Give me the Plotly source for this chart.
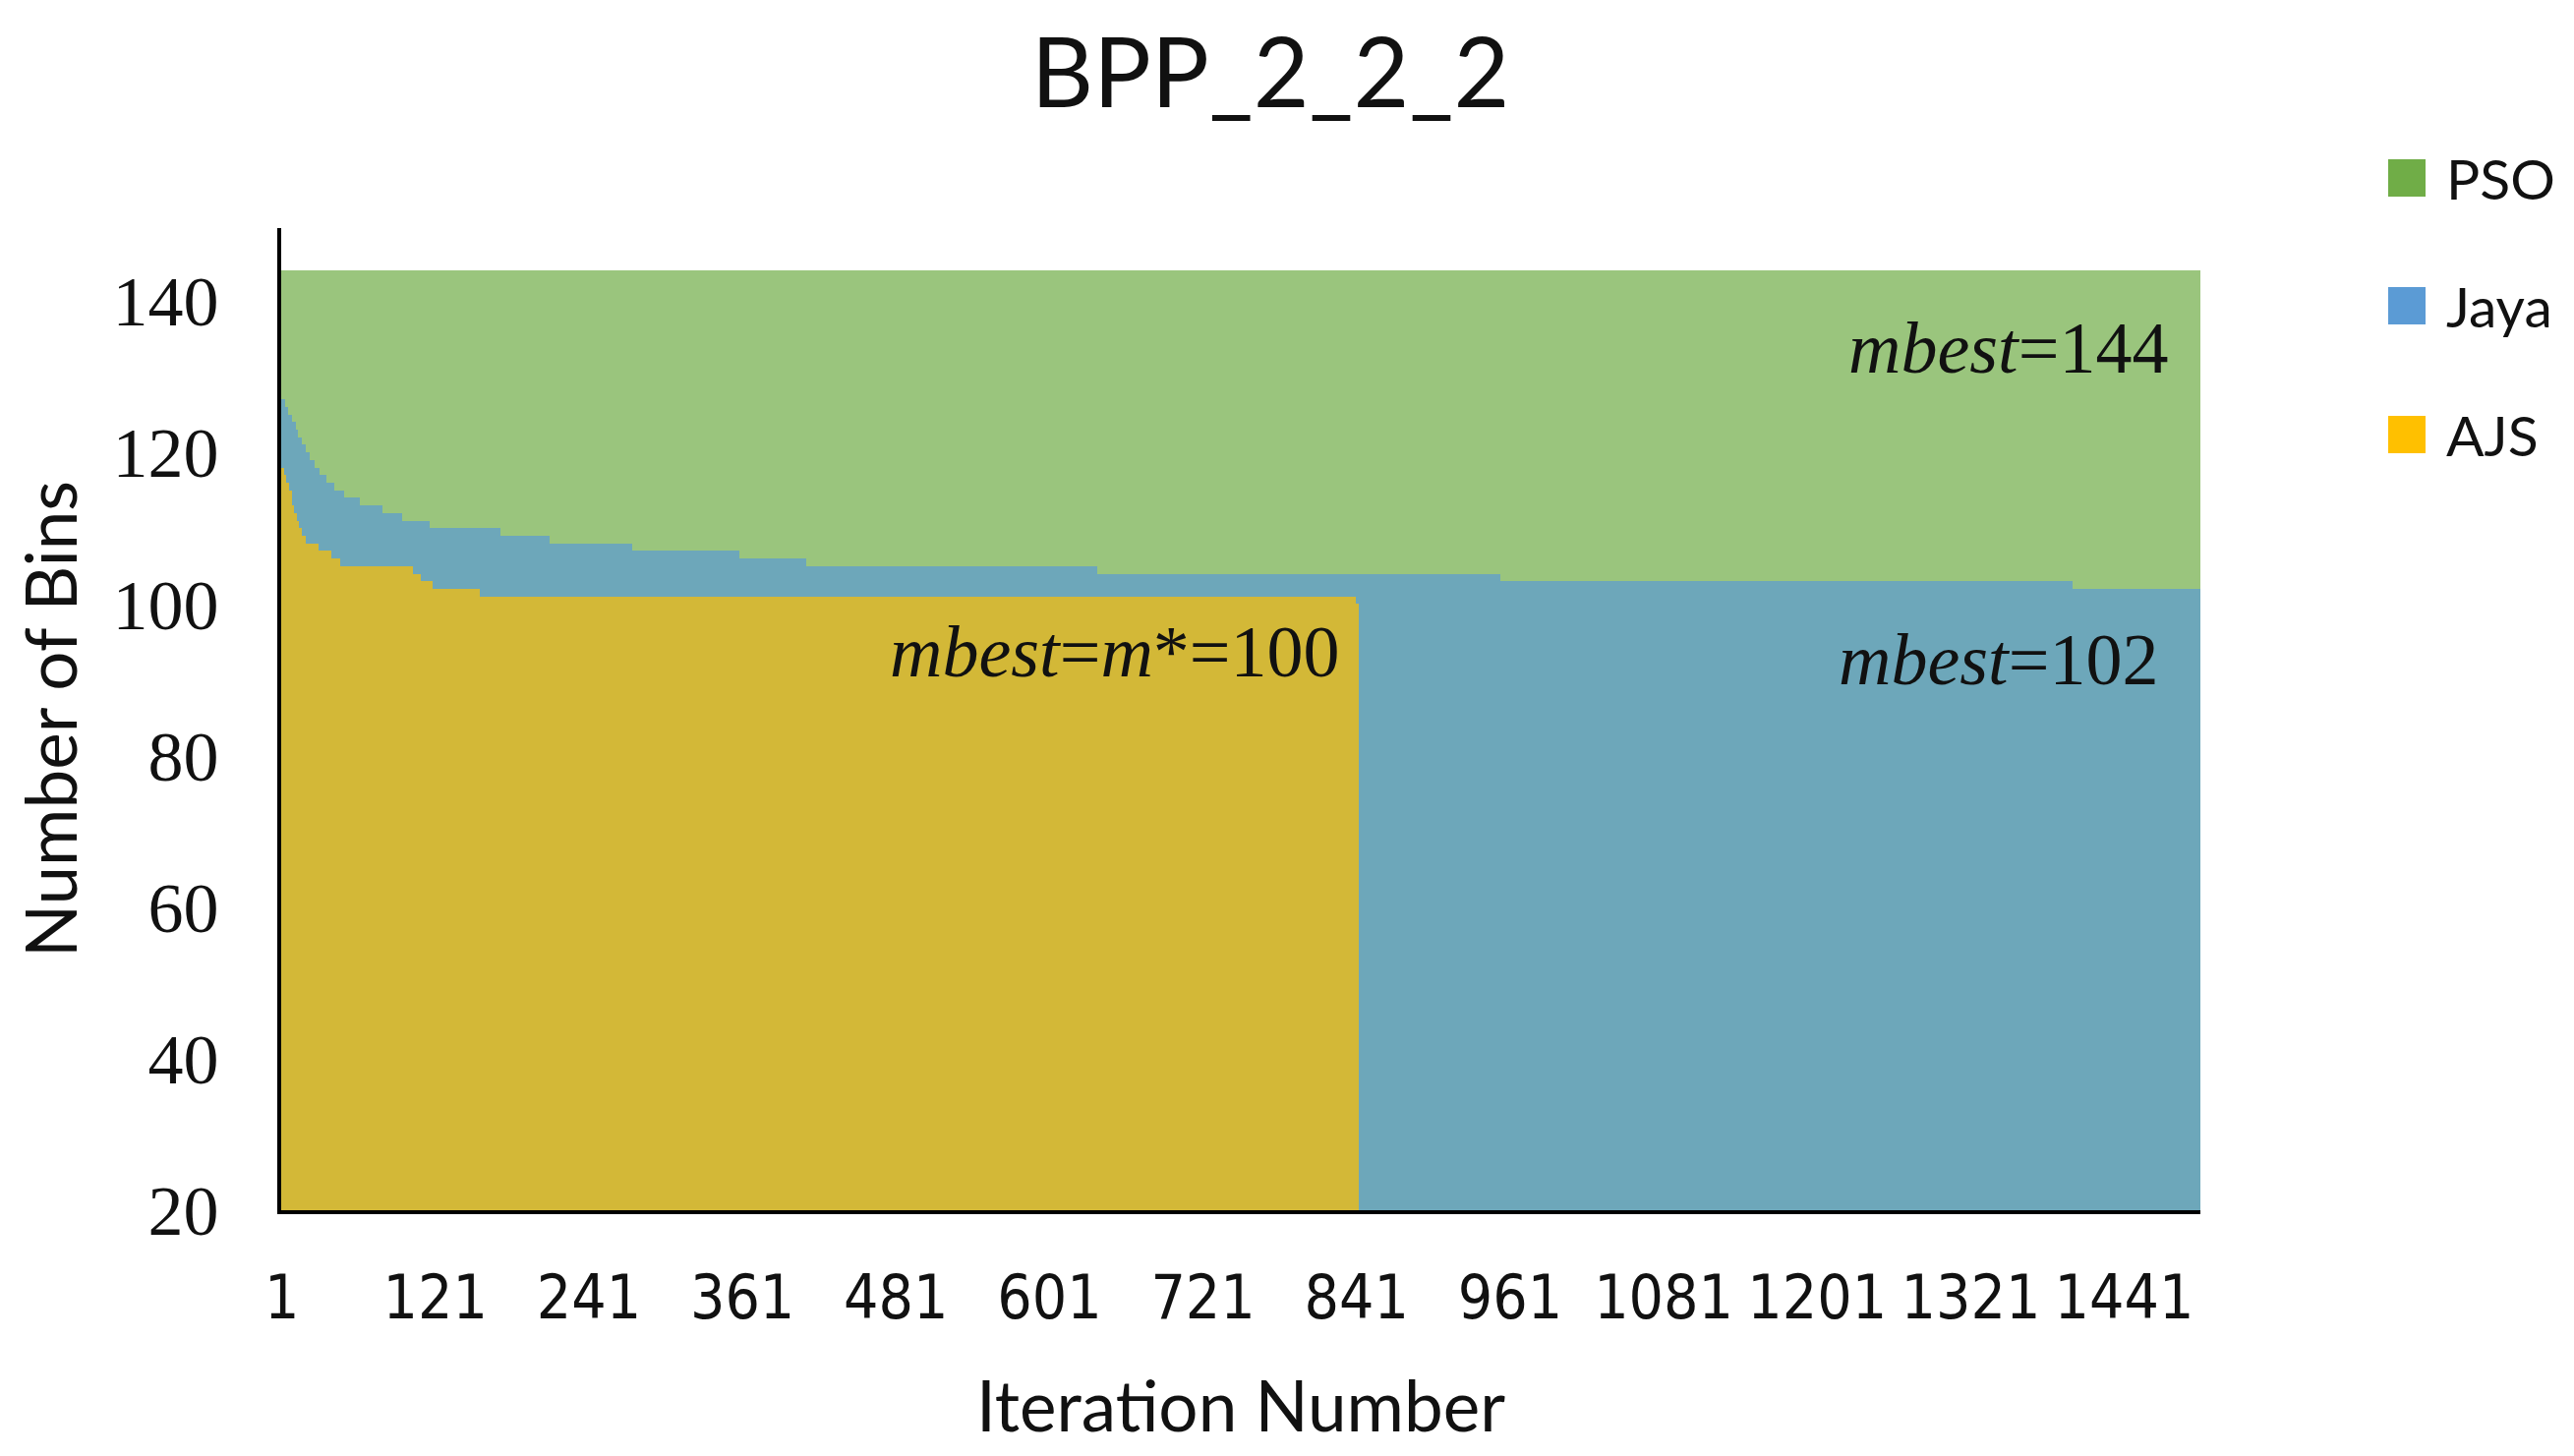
import plotly.graph_objects as go

# ---------------- data ----------------
N_ITER = 1500
X_TICKS = [1, 121, 241, 361, 481, 601, 721, 841, 961, 1081, 1201, 1321, 1441]
Y_TICKS = [20, 40, 60, 80, 100, 120, 140]

# Each series is a step function: value holds from a start iteration
# until the next start iteration (or the last iteration of the series).
PSO_STEP_START = [1]
PSO_STEP_VALUE = [144]
PSO_LAST = 1500

JAYA_STEP_START = [1, 4, 6, 9, 12, 14, 17, 20, 23, 27, 31, 36, 42, 50, 62, 80,
                   95, 117, 172, 211, 275, 359, 411, 639, 954, 1401]
JAYA_STEP_VALUE = [127, 126, 125, 124, 123, 122, 121, 120, 119, 118, 117, 116,
                   115, 114, 113, 112, 111, 110, 109, 108, 107, 106, 105, 104,
                   103, 102]
JAYA_LAST = 1500

AJS_STEP_START = [1, 3, 5, 7, 9, 11, 13, 15, 17, 20, 30, 40, 47, 104, 110, 119,
                  156, 841]
AJS_STEP_VALUE = [118, 117, 116, 115, 113, 112, 111, 110, 109, 108, 107, 106,
                  105, 104, 103, 102, 101, 100]
AJS_LAST = 842

SERIES_NAMES = ["PSO", "Jaya", "AJS"]
SERIES_COLORS = ["#70AD47", "#5B9BD5", "#FFC000"]


def expand(starts, values, last):
    xs, ys = [], []
    for k, (s, v) in enumerate(zip(starts, values)):
        e = starts[k + 1] - 1 if k + 1 < len(starts) else last
        for i in range(s, e + 1):
            xs.append(i)
            ys.append(v)
    return xs, ys


series = [
    expand(PSO_STEP_START, PSO_STEP_VALUE, PSO_LAST),
    expand(JAYA_STEP_START, JAYA_STEP_VALUE, JAYA_LAST),
    expand(AJS_STEP_START, AJS_STEP_VALUE, AJS_LAST),
]

SANS = "Lato, Noto Sans, sans-serif"
NARROW = "Liberation Sans Narrow, DejaVu Sans Condensed, Liberation Sans, sans-serif"
SERIF = "Liberation Serif, DejaVu Serif, serif"
TXT = "#111111"

W, H = 2618, 1481
ML, MR, MT, MB = 278, 388, 224, 258
PW, PH = W - ML - MR, H - MT - MB
OFF = 8  # page offset of the figure inside the browser window

fig = go.Figure()
for (xs, ys), name, color in zip(series, SERIES_NAMES, SERIES_COLORS):
    fig.add_trace(go.Bar(
        x=xs, y=ys, width=1, name=name, showlegend=False,
        marker=dict(color=color, line=dict(width=0)),
        opacity=0.7,
    ))

ann_font = dict(family=SERIF, size=74, color=TXT)
annotations = [
    dict(x=1477, y=133.8, xref="x", yref="y", xanchor="right", yanchor="middle",
         text="<i>mbest</i>=144", showarrow=False, font=ann_font),
    dict(x=830, y=93.7, xref="x", yref="y", xanchor="right", yanchor="middle",
         text="<i>mbest</i>=<i>m</i>*=100", showarrow=False, font=ann_font),
    dict(x=1469, y=92.7, xref="x", yref="y", xanchor="right", yanchor="middle",
         text="<i>mbest</i>=102", showarrow=False, font=ann_font),
]

# legend (swatches + text placed at pixel positions, converted to paper units)
shapes = []
LEG_CENTERS_PX = [181, 311, 442]
SW = 38
for name, color, cy in zip(SERIES_NAMES, SERIES_COLORS, LEG_CENTERS_PX):
    cy = cy - OFF
    x0 = (2429 - OFF - ML) / PW
    x1 = (2429 - OFF + SW - ML) / PW
    y0 = (H - MB - (cy + SW / 2)) / PH
    y1 = (H - MB - (cy - SW / 2)) / PH
    shapes.append(dict(type="rect", xref="paper", yref="paper",
                       x0=x0, x1=x1, y0=y0, y1=y1,
                       fillcolor=color, line=dict(width=0)))
    annotations.append(dict(x=(2486 - OFF - ML) / PW, y=(H - MB - cy) / PH,
                            xref="paper", yref="paper", xanchor="left",
                            yanchor="middle", text=name, showarrow=False,
                            font=dict(family=SANS, size=57, color=TXT)))

fig.update_layout(
    width=W, height=H,
    margin=dict(l=ML, r=MR, t=MT, b=MB),
    paper_bgcolor="white", plot_bgcolor="white",
    barmode="overlay", bargap=0,
    title=dict(text="BPP_2_2_2", font=dict(family=SANS, size=98, color=TXT),
               x=(1292 - OFF) / W, xref="container", xanchor="center",
               y=1 - (75 - OFF) / H, yref="container", yanchor="middle"),
    annotations=annotations,
    shapes=shapes,
    showlegend=False,
)

fig.update_xaxes(
    range=[0.5, N_ITER + 0.5], tickmode="array", tickvals=X_TICKS,
    ticktext=[str(t) for t in X_TICKS], tickangle=0, automargin=False,
    showline=True, linecolor="black", linewidth=4,
    showgrid=False, zeroline=False, ticks="",
    tickfont=dict(family=NARROW, size=62, color=TXT),
    ticklabelstandoff=32,
    title=dict(text="Iteration Number", font=dict(family=SANS, size=71, color=TXT),
               standoff=52),
)
fig.update_yaxes(
    range=[20, 149.6], tickmode="array", tickvals=Y_TICKS, automargin=False,
    showline=True, linecolor="black", linewidth=4,
    showgrid=False, zeroline=False, ticks="",
    tickfont=dict(family=SERIF, size=72, color=TXT),
    ticklabelstandoff=45,
    title=dict(text="Number of Bins", font=dict(family=SANS, size=71, color=TXT),
               standoff=50),
)

fig.write_html("out.html")
